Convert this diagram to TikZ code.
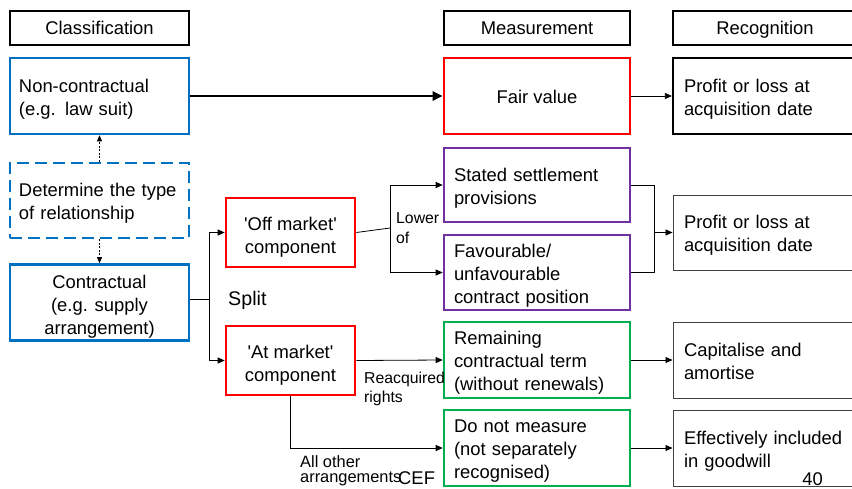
\documentclass[tikz,border=0pt]{standalone}
\usepackage{fontspec}
\setmainfont{Liberation Sans}
\usetikzlibrary{arrows.meta}
\definecolor{cblue}{HTML}{0070C0}
\definecolor{cred}{HTML}{FF0000}
\definecolor{cpurple}{HTML}{7030A0}
\definecolor{cgreen}{HTML}{00B050}
\definecolor{cgray}{HTML}{404040}
\newcommand{\lowrule}{\rule{0pt}{23pt}}
\begin{document}
\begin{tikzpicture}[x=1pt,y=-1pt,
  txt/.style={font=\fontsize{18.4}{23}\selectfont},
  strutted/.style={execute at begin node={\rule{0pt}{20pt}}, execute at end node={\rule[-4.5pt]{0pt}{4.5pt}}},
  small/.style={font=\fontsize{15.8}{19}\selectfont, inner sep=0pt},
  hdr/.style={txt, draw=black, line width=2.8pt, minimum height=34pt, inner sep=0pt, text height=17.2pt, text depth=4pt},
  cbox/.style={txt, strutted, line width=2.6pt, minimum height=76pt, inner sep=0pt, align=center},
  lbox/.style={txt, strutted, line width=2.6pt, minimum height=76pt, inner ysep=0pt, align=left},
  gbox/.style={txt, strutted, draw=cgray, line width=0.9pt, minimum height=76pt, inner xsep=11pt, inner ysep=0pt, align=left, text width=162pt},
  arr/.style={-{Triangle[length=7pt,width=6pt]}, line width=0.8pt},
  conn/.style={line width=0.8pt}
]
\path[use as bounding box] (0,0) rectangle (852,488);

% headers
\node[hdr, minimum width=179pt] (cls) at (99.5,28) {Classification};
\node[hdr, minimum width=186pt] (meas) at (537,28) {Measurement};
\node[hdr, minimum width=184pt] (recg) at (765,28) {Recognition};

% classification column
\node[lbox, draw=cblue, inner xsep=9pt, text width=161pt] (nonc) at (99.5,96) {Non-contractual\\(e.g. law suit)};
\node[lbox, draw=cblue, dash pattern=on 12pt off 6pt, inner xsep=9pt, text width=161pt, minimum height=75pt] (det) at (99.5,200.5) {Determine the type\\of relationship};
\node[cbox, draw=cblue, minimum width=179pt] (contr) at (99.5,302.5) {\lowrule Contractual\\(e.g. supply\\arrangement)};

% components
\node[cbox, draw=cred, minimum width=129pt, minimum height=69pt] (off) at (290.5,232.5) {\lowrule\textquotesingle Off market\textquotesingle\\component};
\node[cbox, draw=cred, minimum width=129pt, minimum height=69pt] (at) at (290.5,360.5) {\lowrule\textquotesingle At market\textquotesingle\\component};

% measurement column
\node[cbox, draw=cred, minimum width=186pt] (fair) at (537,96) {Fair value};
\node[lbox, draw=cpurple, inner xsep=10pt, text width=166pt, minimum height=74pt] (stated) at (537,185) {Stated settlement\\provisions};
\node[lbox, draw=cpurple, inner xsep=10pt, text width=166pt, minimum height=75pt] (fav) at (537,272.5) {Favourable/\\unfavourable\\contract position};
\node[lbox, draw=cgreen, inner xsep=10pt, text width=166pt] (rem) at (537,360) {Remaining\\contractual term\\(without renewals)};
\node[lbox, draw=cgreen, inner xsep=10pt, text width=166pt] (dnm) at (537,448) {Do not measure\\(not separately\\recognised)};

% recognition column
\node[gbox, draw=black, line width=2.2pt] (pl1) at (765,96) {Profit or loss at\\acquisition date};
\node[gbox, minimum height=75pt] (pl2) at (765,232.5) {Profit or loss at\\acquisition date};
\node[gbox] (cap) at (765,360) {Capitalise and\\amortise};
\node[gbox] (eff) at (765,448) {Effectively included\\in goodwill};

% labels
\node[font=\fontsize{19.7}{23}\selectfont, inner sep=0pt, anchor=base west] (split) at (228,305) {Split};
\node[small, anchor=base west] (lw1) at (396,223) {Lower};
\node[small, anchor=base west] (lw2) at (396,243) {of};
\node[small, anchor=base west] (rq1) at (364,383) {Reacquired};
\node[small, anchor=base west] (rq2) at (364,402) {rights};
\node[small, font=\fontsize{16.4}{19}\selectfont, anchor=base west] (ao1) at (300,467) {All other};
\node[small, font=\fontsize{16.4}{19}\selectfont, anchor=base west] (ao2) at (300,482) {arrangements};
\node[txt, inner sep=0pt, anchor=base west] (cef) at (398,484) {CEF};
\node[txt, inner sep=0pt, anchor=base] (pg) at (812.5,485) {40};

% connectors
\draw[line width=2.6pt, -{Triangle[length=10pt,width=9pt]}] (nonc.east) -- (fair.west);
\draw[-{Triangle[length=6pt,width=5pt]}, line width=0.8pt, dash pattern=on 2pt off 1.5pt] (det.north) -- (nonc.south);
\draw[-{Triangle[length=6pt,width=5pt]}, line width=0.8pt, dash pattern=on 2pt off 1.5pt] (det.south) -- (contr.north);

\coordinate (sp) at (209,299);
\draw[conn] (contr.east |- sp) -- (sp);
\draw[arr] (sp) |- (off.west);
\draw[arr] (sp) |- (at.west);

\coordinate (lo) at (390,228);
\draw[conn] (off.east) -- (lo);
\draw[arr] (lo) |- (stated.west);
\draw[arr] (lo) |- (fav.west);

\coordinate (mg) at (654,232.5);
\draw[conn] (stated.east) -| (mg);
\draw[conn] (fav.east) -| (mg);
\draw[arr] (mg) -- (pl2.west);

\draw[arr] (fair.east) -- (pl1.west);
\draw[arr] (at.east) -- (rem.west);
\draw[arr] (at.south) |- (dnm.west);
\draw[arr] (rem.east) -- (cap.west);
\draw[arr] (dnm.east) -- (eff.west);
\end{tikzpicture}
\end{document}
